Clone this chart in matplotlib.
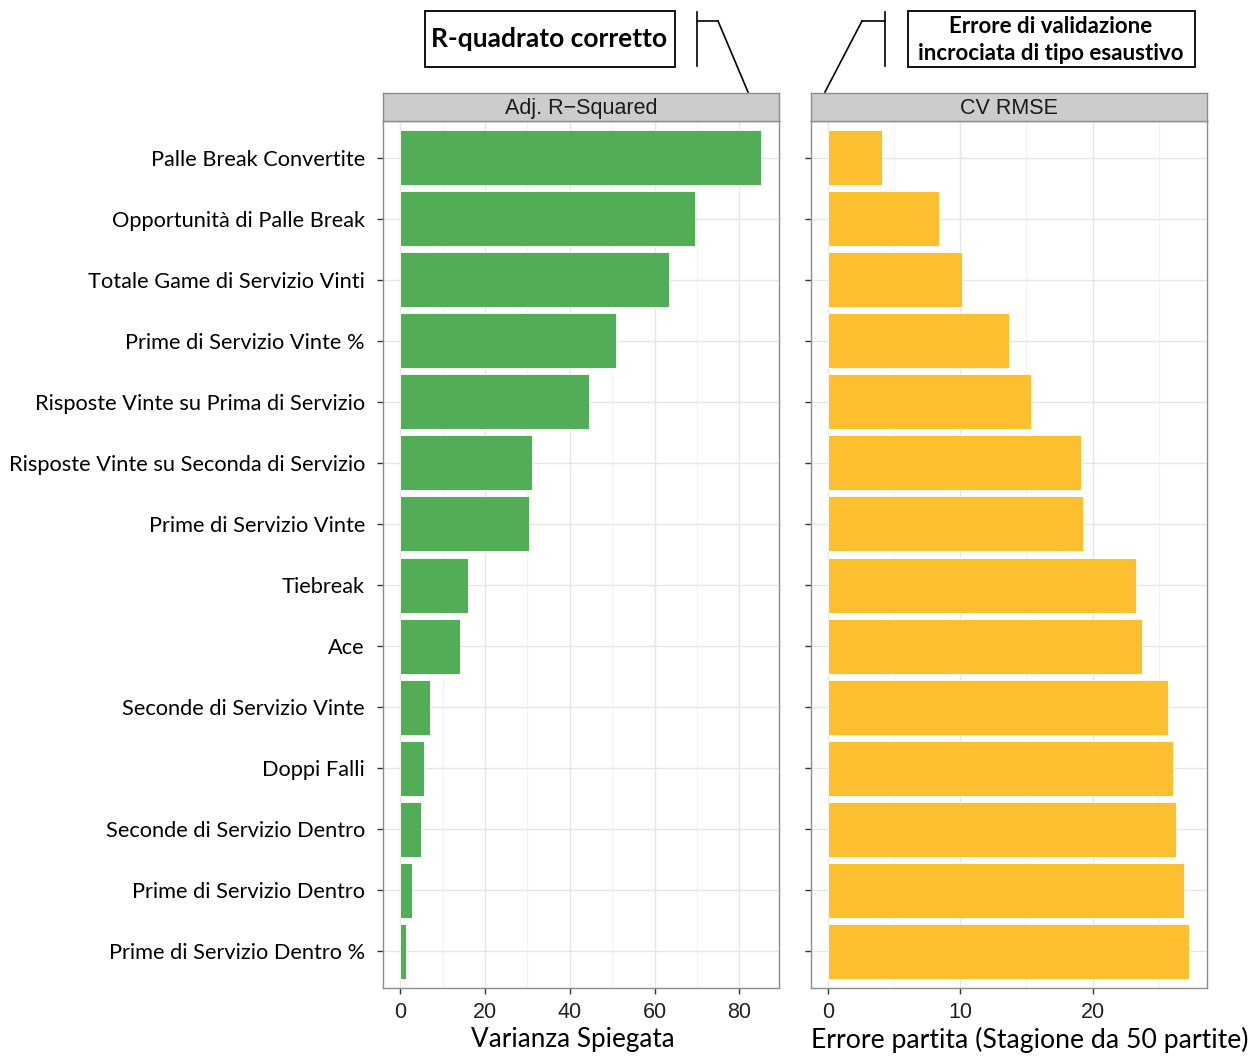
import numpy as np
import matplotlib.pyplot as plt
from matplotlib.patches import Rectangle
from matplotlib.lines import Line2D

categories = ['Palle Break Convertite', 'Opportunità di Palle Break',
              'Totale Game di Servizio Vinti', 'Prime di Servizio Vinte %',
              'Risposte Vinte su Prima di Servizio',
              'Risposte Vinte su Seconda di Servizio', 'Prime di Servizio Vinte',
              'Tiebreak', 'Ace', 'Seconde di Servizio Vinte', 'Doppi Falli',
              'Seconde di Servizio Dentro', 'Prime di Servizio Dentro',
              'Prime di Servizio Dentro %']
adj_r2 = [85.1, 69.6, 63.4, 50.8, 44.5, 31.1, 30.3, 16.0, 14.2, 7.1, 5.7, 4.9, 2.7, 1.25]
cv_rmse = [4.1, 8.4, 10.15, 13.65, 15.35, 19.1, 19.3, 23.3, 23.75, 25.7, 26.1, 26.35, 26.95, 27.3]
left_ticks = [0, 20, 40, 60, 80]
right_ticks = [0, 10, 20]

W, H = 1258, 1062
fig = plt.figure(figsize=(W / 100, H / 100), dpi=100)

LBL_FONT = ['Lato', 'DejaVu Sans']
NUM_FONT = ['Liberation Sans Narrow', 'Liberation Sans', 'DejaVu Sans']


def fx(px):
    return px / W


def fy(py):
    return 1 - py / H


def panel(x0, x1, values, color, ticks, minor, strip_label, show_labels):
    ax = fig.add_axes([fx(x0), fy(988), fx(x1 - x0), (988 - 121) / H])
    y = np.arange(len(values))[::-1] + 1
    ax.barh(y, values, height=0.9, color=color, edgecolor='white',
            linewidth=0.6, zorder=3)
    vmax = max(values)
    ax.set_xlim(-0.048 * vmax, vmax * 1.05)
    ax.set_ylim(0.4, len(values) + 0.6)
    ax.set_xticks(ticks)
    ax.set_xticks(minor, minor=True)
    ax.set_yticks(y)
    ax.grid(True, which='major', color='#e6e6e6', linewidth=1.0, zorder=0)
    ax.grid(True, which='minor', axis='x', color='#f3f3f3', linewidth=0.8, zorder=0)
    ax.tick_params(axis='y', which='minor', left=False)
    ax.tick_params(axis='x', which='minor', bottom=False)
    ax.tick_params(length=4, width=1, color='#333333')
    ax.tick_params(axis='x', pad=6)
    for s in ax.spines.values():
        s.set_color('#8c8c8c')
        s.set_linewidth(1.0)
    for t in ax.get_xticklabels():
        t.set_family(NUM_FONT)
        t.set_fontsize(15.5)
        t.set_color('#222222')
    if show_labels:
        ax.set_yticklabels(categories, family=LBL_FONT, fontsize=15.7, color='black')
        ax.tick_params(axis='y', pad=9)
    else:
        ax.set_yticklabels([])
    # strip
    sa = fig.add_axes([fx(x0), fy(121), fx(x1 - x0), (121 - 93) / H])
    sa.set_facecolor('#cccccc')
    sa.set_xticks([])
    sa.set_yticks([])
    for s in sa.spines.values():
        s.set_color('#8c8c8c')
        s.set_linewidth(1.0)
    sa.text(0.5, 0.45, strip_label, ha='center', va='center',
            family=['Liberation Sans', 'DejaVu Sans'], fontsize=15.5, color='#1a1a1a')
    return ax


panel(383, 779, adj_r2, '#52ae56', left_ticks, [10, 30, 50, 70],
      'Adj. R\u2212Squared', True)
panel(811, 1207, cv_rmse, '#fcbf30', right_ticks, [5, 15, 25],
      'CV RMSE', False)

fig.text(fx(573), fy(1040), 'Varianza Spiegata', ha='center', va='center',
         family=LBL_FONT, fontsize=18.8)
fig.text(fx(1030), fy(1040), 'Errore partita (Stagione da 50 partite)',
         ha='center', va='center', family=LBL_FONT, fontsize=19.2)

# annotation boxes
for (x0, y0, x1, y1) in [(425, 11, 675, 67), (908, 11, 1195, 67)]:
    fig.add_artist(Rectangle((fx(x0), fy(y1)), fx(x1 - x0), (y1 - y0) / H,
                             transform=fig.transFigure, fill=False,
                             edgecolor='black', linewidth=1.3))
fig.text(fx(549), fy(39), 'R-quadrato corretto', ha='center', va='center',
         family=LBL_FONT, fontsize=19, fontweight='bold')
fig.text(fx(1051), fy(40), 'Errore di validazione\nincrociata di tipo esaustivo',
         ha='center', va='center', family=LBL_FONT, fontsize=16,
         fontweight='bold', linespacing=1.35)

# connector brackets
segs = [((697, 12), (697, 66)), ((697, 21), (718, 21)), ((718, 21), (748, 92)),
        ((885, 12), (885, 66)), ((862, 21), (885, 21)), ((862, 21), (825, 92))]
for (a, b) in segs:
    fig.add_artist(Line2D([fx(a[0]), fx(b[0])], [fy(a[1]), fy(b[1])],
                          transform=fig.transFigure, color='black', linewidth=1.2))

fig.savefig('out.png', dpi=100)
